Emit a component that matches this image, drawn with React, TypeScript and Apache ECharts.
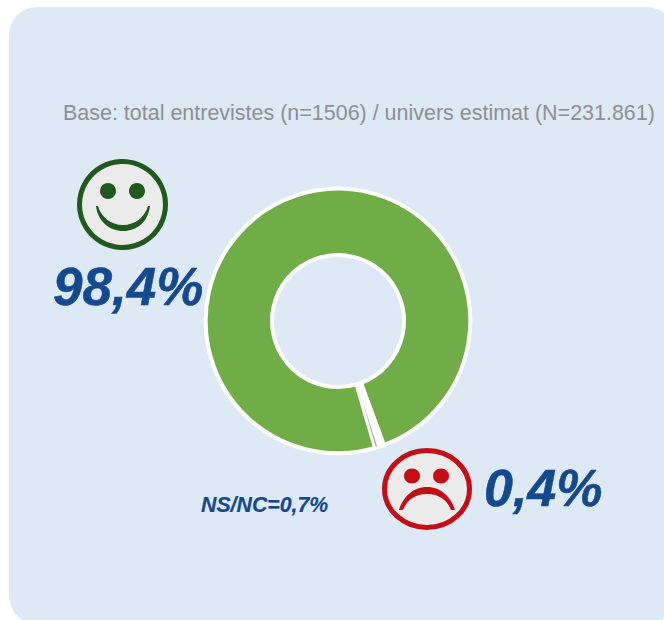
import React, { useEffect, useRef } from "react";
import * as echarts from "echarts";

const sliceNames = ["Satisfets", "NS/NC", "Insatisfets"];
const sliceValues = [98.4, 0.7, 0.4];
const sliceColors = ["#70ad47", "#ffffff", "#a0a0a0"];
const baseNote = "Base: total entrevistes (n=1506) / univers estimat (N=231.861)";
const positiveLabel = "98,4%";
const negativeLabel = "0,4%";
const unknownLabel = "NS/NC=0,7%";

const BLUE = "#15498f";
const GREEN_FACE = "#1f5a1c";
const RED_FACE = "#c40d15";
const FACE_FILL = "#ebebeb";

echarts.graphic.registerShape(
  "smileMouth",
  echarts.graphic.extendPath(
    "M96 206 C98 222 110 231 123 231 C137 231 148 222 150 206 L148 206 C145 217 135 225 123 225 C111 225 101 217 98 206 Z",
    {} as any
  ) as any
);
echarts.graphic.registerShape(
  "frownMouth",
  echarts.graphic.extendPath(
    "M399 510 C403 497 413 487 427 487 C441 487 451 497 455 510 L451 510 C447 500 439 494 427 494 C415 494 407 500 403 510 Z",
    {} as any
  ) as any
);

export default function App() {
  const ref = useRef<HTMLDivElement>(null);
  useEffect(() => {
    const chart = echarts.init(ref.current!, undefined, { renderer: "svg" });
    const bold = (size: number, weight: number) => ({
      fontFamily: "Liberation Sans",
      fontWeight: "bold",
      fontStyle: "italic",
      fontSize: size,
      fill: BLUE,
      stroke: BLUE,
      lineWidth: weight,
    });
    chart.setOption({
      animation: false,
      backgroundColor: "#ffffff",
      graphic: [
        {
          type: "rect",
          z: 0,
          shape: { x: 9, y: 7, width: 666, height: 617, r: 28 },
          style: { fill: "#dde9f5" },
        },
        {
          type: "text",
          z: 5,
          x: 63,
          y: 113,
          style: {
            text: baseNote,
            fontFamily: "Liberation Sans",
            fontSize: 21.47,
            fill: "#8f8f8f",
            verticalAlign: "middle",
          },
        },
        { type: "text", z: 5, x: 53, y: 286, style: { text: positiveLabel, verticalAlign: "middle", ...bold(53, 0.5) } },
        { type: "text", z: 5, x: 484, y: 488, style: { text: negativeLabel, verticalAlign: "middle", ...bold(52, 0.5) } },
        { type: "text", z: 5, x: 201, y: 505, style: { text: unknownLabel, verticalAlign: "middle", ...bold(21.3, 0.2) } },
        {
          type: "circle",
          z: 5,
          shape: { cx: 122.5, cy: 204.5, r: 43 },
          style: { fill: FACE_FILL, stroke: GREEN_FACE, lineWidth: 5 },
        },
        { type: "circle", z: 6, shape: { cx: 108, cy: 191, r: 8 }, style: { fill: GREEN_FACE } },
        { type: "circle", z: 6, shape: { cx: 137, cy: 191, r: 8 }, style: { fill: GREEN_FACE } },
        { type: "smileMouth", z: 6, x: 0, y: 0, style: { fill: GREEN_FACE } },
        {
          type: "ellipse",
          z: 5,
          shape: { cx: 427, cy: 489, rx: 42.5, ry: 38.5 },
          style: { fill: FACE_FILL, stroke: RED_FACE, lineWidth: 5 },
        },
        { type: "ellipse", z: 6, shape: { cx: 412, cy: 476, rx: 8, ry: 7.5 }, style: { fill: RED_FACE } },
        { type: "ellipse", z: 6, shape: { cx: 441, cy: 476, rx: 8, ry: 7.5 }, style: { fill: RED_FACE } },
        { type: "frownMouth", z: 6, x: 0, y: 0, style: { fill: RED_FACE } },
      ],
      series: [
        {
          type: "pie",
          center: [338, 321],
          radius: [66, 132.3],
          startAngle: -73.7,
          clockwise: true,
          silent: true,
          avoidLabelOverlap: false,
          label: { show: false },
          labelLine: { show: false },
          itemStyle: { borderColor: "#ffffff", borderWidth: 4 },
          data: sliceNames.map((name, i) => ({
            name,
            value: sliceValues[i],
            itemStyle:
              i === sliceNames.length - 1
                ? { color: sliceColors[i], borderWidth: 2 }
                : { color: sliceColors[i] },
          })),
        },
      ],
    });
    return () => chart.dispose();
  }, []);
  return <div ref={ref} style={{ position: "absolute", left: 0, top: 0, width: 664, height: 620 }} />;
}
